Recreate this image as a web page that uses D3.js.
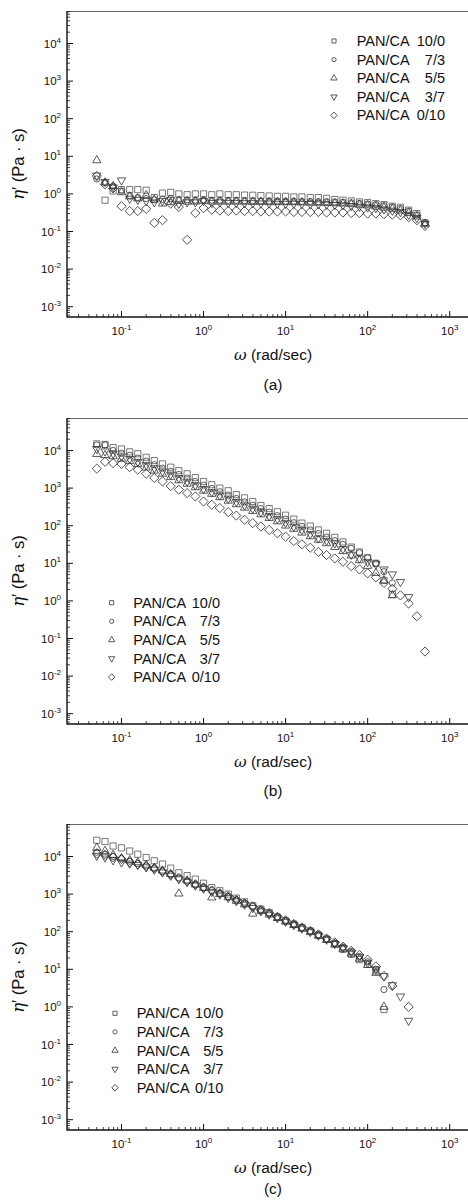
<!DOCTYPE html>
<html><head><meta charset="utf-8">
<script src="https://cdn.jsdelivr.net/npm/d3@7"></script>
<style>
body{margin:0;background:#fff}
svg{display:block}
text{font-family:"Liberation Sans",Arial,Helvetica,sans-serif;fill:#111}
</style>
</head><body>
<svg id="chart" width="468" height="1204"></svg>
<script>
// ---------------- DATA ----------------
const omega = [
  0.05, 0.063, 0.079, 0.1, 0.126, 0.158, 0.2, 0.251, 0.316, 0.398,
  0.5, 0.631, 0.794, 1, 1.26, 1.58, 2, 2.51, 3.16, 3.98,
  5, 6.31, 7.94, 10, 12.6, 15.8, 20, 25.1, 31.6, 39.8,
  50, 63.1, 79.4, 100, 126, 158, 200, 251, 316, 398,
  500
];
const legendPrefix = "PAN/CA";
const legendRatios = ["10/0", "7/3", "5/5", "3/7", "0/10"];
const xTickValues = [0.1, 1, 10, 100, 1000];
const xTickExponents = ["-1", "0", "1", "2", "3"];
const yTickValues = [1e-3, 1e-2, 1e-1, 1, 1e1, 1e2, 1e3, 1e4];
const yTickExponents = ["-3", "-2", "-1", "0", "1", "2", "3", "4"];
const panelLabels = ["(a)", "(b)", "(c)"];

// Panel (a)
const a_10_0 = [
  null, 0.68, 1.2, 1.3, 1.3, 1.3, 1.25, 0.8, 1.05, 1.1,
  1.0, 0.95, 1.0, 1.0, 0.95, 1.0, 0.95, 0.95, 0.93, 0.92,
  0.9, 0.88, 0.86, 0.86, 0.83, 0.83, 0.8, 0.8, 0.76, 0.71,
  0.68, 0.65, 0.61, 0.59, 0.55, 0.52, 0.47, 0.44, 0.37, 0.3,
  0.17];
const a_7_3 = [
  2.5, 2.0, 1.6, 1.2, 0.9, 0.8, 0.75, 0.7, 0.72, 0.75,
  0.7, 0.7, 0.68, 0.7, 0.68, 0.68, 0.67, 0.67, 0.66, 0.66,
  0.65, 0.65, 0.65, 0.64, 0.64, 0.63, 0.63, 0.62, 0.62, 0.61,
  0.6, 0.58, 0.56, 0.54, 0.52, 0.49, 0.45, 0.41, 0.35, 0.28,
  0.17];
const a_5_5 = [
  7.8, 2.0, 1.6, 1.1, 0.85, 0.75, 0.92, 0.7, 0.55, 0.6,
  0.65, 0.62, 0.62, 0.65, 0.62, 0.62, 0.62, 0.62, 0.62, 0.61,
  0.61, 0.6, 0.6, 0.6, 0.6, 0.59, 0.58, 0.58, 0.57, 0.56,
  0.55, 0.53, 0.51, 0.49, 0.46, 0.43, 0.4, 0.36, 0.31, 0.25,
  0.16];
const a_3_7 = [
  3.1, 2.1, 1.5, 2.3, 0.75, 0.7, 0.65, 0.6, 0.65, 0.7,
  0.55, 0.6, 0.6, 0.65, 0.58, 0.6, 0.58, 0.58, 0.57, 0.57,
  0.56, 0.56, 0.55, 0.55, 0.55, 0.54, 0.54, 0.53, 0.52, 0.51,
  0.5, 0.48, 0.46, 0.44, 0.42, 0.39, 0.36, 0.33, 0.28, 0.23,
  0.16];
const a_0_10 = [
  3.0, 1.8, 1.4, 0.47, 0.35, 0.35, 0.4, 0.17, 0.2, 0.55,
  0.45, 0.06, 0.31, 0.42, 0.38, 0.36, 0.35, 0.36, 0.35, 0.35,
  0.34, 0.34, 0.34, 0.34, 0.33, 0.33, 0.33, 0.33, 0.32, 0.32,
  0.32, 0.31, 0.31, 0.3, 0.3, 0.29, 0.28, 0.27, 0.24, 0.2,
  0.14];

// Panel (b)
const b_10_0 = [
  15000, 14500, 12000, 11000, 9200, 8200, 6600, 5400, 4400, 3600,
  2900, 2400, 1900, 1500, 1230, 1000, 850, 670, 550, 440,
  345, 285, 235, 190, 150, 117, 98, 77, 63, 49,
  37, 27, 20, 14, 10, 3.5, 1.5, null, null, null,
  null];
const b_7_3 = [
  14000, 14000, 10000, 8500, 7500, 6300, 5200, 4200, 3400, 2800,
  2300, 1850, 1500, 1200, 980, 800, 650, 530, 430, 350,
  285, 230, 185, 150, 120, 96, 77, 62, 50, 40,
  32, 25, 19, 14, 10, 6, 3, null, null, null,
  null];
const b_5_5 = [
  8000, 7500, 7000, 6000, 5200, 4300, 3500, 2900, 2400, 1950,
  1600, 1300, 1050, 850, 700, 570, 460, 370, 300, 245,
  200, 160, 130, 100, 82, 65, 52, 42, 34, 27,
  21, 16, 12, 8.5, 5.5, 3.5, 1.4, null, null, null,
  null];
const b_3_7 = [
  11000, 9500, 8200, 7000, 6000, 5000, 4100, 3400, 2800, 2300,
  1850, 1500, 1200, 950, 780, 640, 530, 430, 350, 285,
  230, 180, 150, 120, 95, 77, 60, 46, 40, 34,
  24, 17, 13.5, 11, 9.5, 6.9, 5.1, 3.2, 1.27, null,
  null];
const b_0_10 = [
  3300, 5000, 4600, 4400, 3600, 3100, 2400, 1860, 1500, 1130,
  910, 740, 600, 440, 360, 295, 230, 186, 144, 117,
  95, 77, 63, 51, 39, 32, 26, 20, 16.6, 13.5,
  11, 8.4, 6.9, 5.4, 4.2, 3.0, 2.1, 1.4, 0.85, 0.39,
  0.045];

// Panel (c)
const c_10_0 = [
  27000, 25000, 19000, 17000, 14000, 11500, 9400, 7700, 6300, 4900,
  3700, 3100, 2500, 1950, 1490, 1230, 1000, 780, 620, 490,
  400, 325, 245, 195, 158, 128, 105, 81, 63, 46,
  34, 25, 18, 13.5, 9, 0.85, null, null, null, null,
  null];
const c_7_3 = [
  13000, 11500, 10000, 8800, 7500, 6500, 5600, 4800, 4000, 3300,
  2700, 2200, 1800, 1500, 1250, 1050, 860, 700, 570, 470,
  380, 310, 250, 200, 160, 128, 104, 83, 65, 50,
  39, 30, 22, 16, 10, 2.9, null, null, null, null,
  null];
const c_5_5 = [
  17000, 14000, 11000, 9000, 8000, 7000, 6000, 5000, 4200, 3400,
  1030, 2300, 1800, 1450, 810, 1000, 820, 660, 530, 300,
  350, 285, 230, 185, 150, 120, 97, 78, 60, 46,
  35, 26, 19, 13, 8, 1.0, null, null, null, null,
  null];
const c_3_7 = [
  10500, 9500, 8000, 7000, 6500, 6000, 5200, 4500, 3800, 3100,
  2500, 2100, 1700, 1400, 1150, 980, 800, 650, 530, 430,
  350, 285, 230, 185, 150, 122, 99, 79, 62, 48,
  37, 28, 21, 15, 10, 6.6, 3.8, 1.9, 0.43, null,
  null];
const c_0_10 = [
  12000, 11000, 9500, 8500, 7000, 6200, 5500, 4800, 4000, 3300,
  2700, 2200, 1800, 1500, 1250, 1050, 870, 700, 570, 470,
  380, 310, 250, 200, 160, 130, 105, 85, 66, 52,
  40, 31, 24, 18, 12, 6.6, 3.6, null, 1.0, null,
  null];

const panelSeries = [
  [a_10_0, a_7_3, a_5_5, a_3_7, a_0_10],
  [b_10_0, b_7_3, b_5_5, b_3_7, b_0_10],
  [c_10_0, c_7_3, c_5_5, c_3_7, c_0_10]
];

// ---------------- LAYOUT ----------------
const svg = d3.select("#chart");
const left = 67, right = 479, plotH = 306;
const panels = [
  {top: 11,  legX: 334,   legTextX: 356.7, legEndX: 445,   legY: 30,    letterDy: 73},
  {top: 418, legX: 111.7, legTextX: 133.3, legEndX: 220,   legY: 184.7, letterDy: 72},
  {top: 824, legX: 115,   legTextX: 136.7, legEndX: 223.3, legY: 189.3, letterDy: 64}
];
const legStep = 18.6;
const labelCX = 273;

const x = d3.scaleLog().domain([Math.pow(10, -1.664), Math.pow(10, 3.357)]).range([left, right]);

const shapes = [
  {type: d3.symbolSquare, size: 38, rot: 0, lsize: 17},
  {type: d3.symbolCircle, size: 30, rot: 0, lsize: 14},
  {type: d3.symbolTriangle, size: 30, rot: 0, lsize: 17},
  {type: d3.symbolTriangle, size: 30, rot: 180, lsize: 17},
  {type: d3.symbolSquare, size: 42, rot: 45, lsize: 21}
];
const strokeCols = ["#555", "#333", "#333", "#333", "#333"];

// minor tick values
function minorTicks(lo, hi) {
  const out = [];
  for (let e = Math.floor(Math.log10(lo)); e <= Math.ceil(Math.log10(hi)); e++) {
    for (let m = 2; m <= 9; m++) {
      const v = m * Math.pow(10, e);
      if (v > lo && v < hi) out.push(v);
    }
  }
  return out;
}

panels.forEach((p, pi) => {
  const top = p.top, bottom = top + plotH;
  const y = d3.scaleLog()
    .domain([Math.pow(10, 4 - (plotH - 32.5) / 37.6), Math.pow(10, 4 + 32.5 / 37.6)])
    .range([bottom, top]);
  const g = svg.append("g");

  // top border
  g.append("line").attr("x1", left).attr("x2", 468).attr("y1", top + 0.5).attr("y2", top + 0.5)
    .attr("stroke", "#666").attr("stroke-width", 1);

  // minor ticks x
  const [xlo, xhi] = x.domain();
  g.selectAll(null).data(minorTicks(xlo, xhi)).join("line")
    .attr("x1", d => x(d)).attr("x2", d => x(d))
    .attr("y1", bottom).attr("y2", bottom - 3)
    .attr("stroke", "#111").attr("stroke-width", 0.8);
  g.selectAll(null).data(xTickValues).join("line")
    .attr("x1", d => x(d)).attr("x2", d => x(d))
    .attr("y1", bottom).attr("y2", bottom - 6)
    .attr("stroke", "#111").attr("stroke-width", 1);

  // minor ticks y
  const [ylo, yhi] = y.domain();
  g.selectAll(null).data(minorTicks(ylo, yhi)).join("line")
    .attr("x1", left).attr("x2", left + 3)
    .attr("y1", d => y(d)).attr("y2", d => y(d))
    .attr("stroke", "#111").attr("stroke-width", 0.8);
  g.selectAll(null).data(yTickValues).join("line")
    .attr("x1", left).attr("x2", left + 6)
    .attr("y1", d => y(d)).attr("y2", d => y(d))
    .attr("stroke", "#111").attr("stroke-width", 1);

  // axis lines
  g.append("line").attr("x1", left).attr("x2", left).attr("y1", top).attr("y2", bottom + 0.5)
    .attr("stroke", "#111").attr("stroke-width", 1.4);
  g.append("line").attr("x1", left).attr("x2", 468).attr("y1", bottom).attr("y2", bottom)
    .attr("stroke", "#111").attr("stroke-width", 1.4);

  // x tick labels
  xTickValues.forEach((v, i) => {
    const t = g.append("text").attr("x", x(v)).attr("y", bottom + 18)
      .attr("text-anchor", "middle").attr("font-size", 11.5);
    t.append("tspan").text("10");
    t.append("tspan").attr("dy", -5).attr("font-size", 8).text(xTickExponents[i]);
  });
  // y tick labels
  yTickValues.forEach((v, i) => {
    const t = g.append("text").attr("x", 61).attr("y", y(v) + 4)
      .attr("text-anchor", "end").attr("font-size", 11.5);
    t.append("tspan").text("10");
    t.append("tspan").attr("dy", -5).attr("font-size", 8).text(yTickExponents[i]);
  });

  // y axis label
  const yl = g.append("text")
    .attr("transform", `translate(24,${top + plotH / 2}) rotate(-90)`)
    .attr("text-anchor", "middle").attr("font-size", 16.5);
  yl.append("tspan").attr("font-style", "italic").attr("font-family", "DejaVu Serif, serif").text("η");
  yl.append("tspan").text("′ (Pa · s)");

  // x axis label
  const xl = g.append("text").attr("x", labelCX).attr("y", bottom + 43)
    .attr("text-anchor", "middle").attr("font-size", 15.5);
  xl.append("tspan").attr("font-style", "italic").attr("font-family", "DejaVu Serif, serif").text("ω");
  xl.append("tspan").text(" (rad/sec)");

  // panel letter
  g.append("text").attr("x", labelCX).attr("y", bottom + p.letterDy)
    .attr("text-anchor", "middle").attr("font-size", 15.5).text(panelLabels[pi]);

  // data markers
  panelSeries[pi].forEach((vals, si) => {
    const sh = shapes[si];
    const pts = omega.map((w, k) => ({w, v: vals[k]})).filter(d => d.v != null);
    g.append("g").selectAll("path").data(pts).join("path")
      .attr("d", d3.symbol(sh.type, sh.size))
      .attr("transform", d => `translate(${x(d.w)},${y(d.v)}) rotate(${sh.rot})`)
      .attr("fill", "none").attr("stroke", strokeCols[si]).attr("stroke-width", 0.8);
  });

  // legend
  legendRatios.forEach((r, si) => {
    const sh = shapes[si];
    const cy = top + p.legY + si * legStep;
    g.append("path").attr("d", d3.symbol(sh.type, sh.lsize))
      .attr("transform", `translate(${p.legX},${cy}) rotate(${sh.rot})`)
      .attr("fill", "none").attr("stroke", "#333").attr("stroke-width", 0.8);
    g.append("text").attr("x", p.legTextX).attr("y", cy + 5).attr("font-size", 14.5)
      .text(legendPrefix);
    g.append("text").attr("x", p.legEndX).attr("y", cy + 5).attr("font-size", 14.5)
      .attr("text-anchor", "end").text(r);
  });
});
</script>
</body></html>
